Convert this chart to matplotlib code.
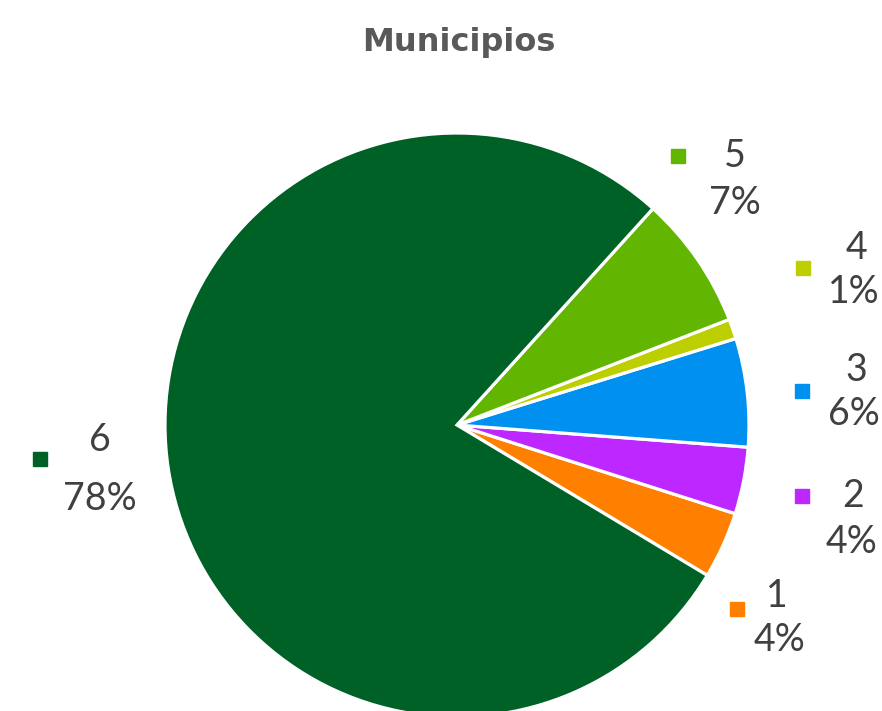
import matplotlib
matplotlib.use("Agg")
import matplotlib.pyplot as plt

categories = ["1", "2", "3", "4", "5", "6"]
values = [3.7, 3.7, 6.0, 1.1, 7.4, 78.1]
colors = ["#FF7F00", "#BC28FF", "#0091F0", "#BDCF00", "#62B500", "#006127"]

W, H = 882, 711
plt.rcParams['font.family'] = ['Lato', 'DejaVu Sans']

fig = plt.figure(figsize=(W / 100, H / 100), dpi=100)
ax = fig.add_axes([0, 0, 1, 1])

cx, cy, R = 457, H - 425, 292
wedges, _ = ax.pie(values, colors=colors, startangle=-31, counterclock=True,
                   center=(cx, cy), radius=R, frame=True,
                   wedgeprops=dict(edgecolor="white", linewidth=2.3))
ax.set_xlim(0, W)
ax.set_ylim(0, H)
ax.set_aspect('equal')
ax.axis('off')

# label layout (pixel positions from top): marker, name, percentage
layout = {
    "5": ((678, 156), (735, 156), (735, 203)),
    "4": ((803, 268), (856, 248), (854, 292)),
    "3": ((802, 391), (856, 370), (854, 414)),
    "2": ((802, 496), (853, 496), (851, 542)),
    "1": ((737, 609), (777, 596), (780, 640)),
    "6": ((40, 459), (100, 440), (100, 499)),
}
txtcol = "#404040"
for cat, val, col in zip(categories, values, colors):
    (mx, my), (nx, ny), (px, py) = layout[cat]
    ax.plot([mx], [H - my], marker='s', markersize=10, color=col, linestyle='none')
    ax.text(nx, H - ny, cat, ha='center', va='center', fontsize=27, color=txtcol)
    ax.text(px, H - py, f"{round(val):d}%", ha='center', va='center', fontsize=27, color=txtcol)

ax.text(459, H - 51, "Municipios", ha='center', va='baseline', fontsize=23,
        fontweight='bold', color="#595959", family=['DejaVu Sans'])

fig.savefig("out.png", dpi=100)
